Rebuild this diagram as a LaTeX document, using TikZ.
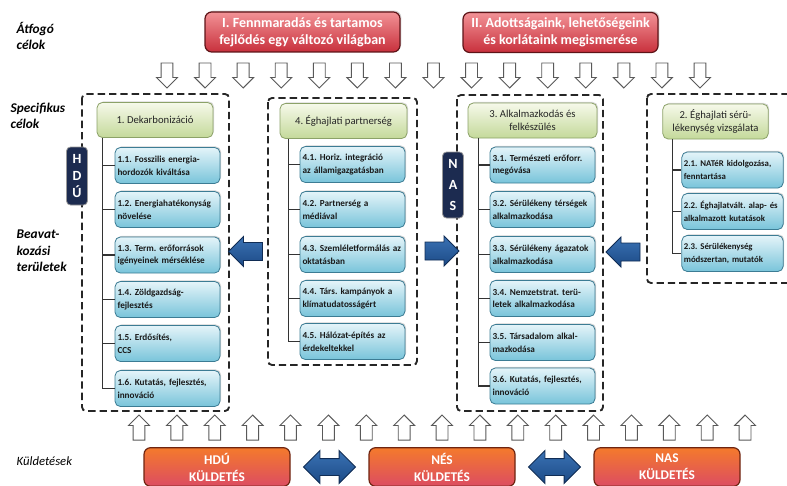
\documentclass[tikz,border=0pt]{standalone}
\usepackage{fontspec}
\setmainfont{Carlito}
\usetikzlibrary{shapes.arrows,shadows,calc}

\definecolor{redtop}{HTML}{F29296}
\definecolor{redbot}{HTML}{C8303C}
\definecolor{redline}{HTML}{5E1418}
\definecolor{grntop}{HTML}{F6F9EA}
\definecolor{grnbot}{HTML}{C4D99A}
\definecolor{grnline}{HTML}{8CA268}
\definecolor{blutop}{HTML}{E4F4F9}
\definecolor{blubot}{HTML}{78C4DA}
\definecolor{bluline}{HTML}{3C7C94}
\definecolor{navy}{HTML}{1C2B50}
\definecolor{arrtop}{HTML}{3A72B4}
\definecolor{arrbot}{HTML}{1C4A86}
\definecolor{arrline}{HTML}{102C54}
\definecolor{orgtop}{HTML}{F47A2C}
\definecolor{orgbot}{HTML}{DC4C62}
\definecolor{orgline}{HTML}{6E2410}

\tikzset{
  goalbox/.style={draw=redline, line width=0.9pt, rounded corners=5pt,
    top color=redtop, bottom color=redbot, text=white, align=center,
    minimum width=146.25pt, minimum height=30pt, inner sep=1pt,
    font=\fontsize{10.5}{13}\selectfont\bfseries,
    drop shadow={opacity=0.35,shadow xshift=1pt,shadow yshift=1pt}},
  headbox/.style={draw=grnline, line width=0.6pt, rounded corners=4pt,
    top color=grntop, bottom color=grnbot, align=center,
    minimum height=26.25pt, inner sep=1pt, text=black!85,
    font=\fontsize{8}{10}\selectfont,
    drop shadow={opacity=0.3,shadow xshift=0.8pt,shadow yshift=0.8pt}},
  taskbox/.style={draw=bluline, line width=0.6pt, rounded corners=4pt,
    top color=blutop, bottom color=blubot, align=left,
    text width=75pt, minimum width=78.75pt, minimum height=27pt,
    inner xsep=1.5pt, inner ysep=2pt, text=black!90,
    font=\frenchspacing\fontsize{6.9}{9.6}\selectfont\bfseries,
    drop shadow={opacity=0.35,shadow xshift=0.8pt,shadow yshift=0.8pt}},
  stratlbl/.style={draw=black!40, line width=0.6pt, rounded corners=3pt,
    fill=navy, text=white, align=center, minimum width=15.75pt, inner sep=1pt,
    font=\fontsize{10.5}{13}\selectfont\bfseries},
  missbox/.style={draw=orgline, line width=0.9pt, rounded corners=5pt,
    top color=orgtop, bottom color=orgbot, text=white, align=center,
    minimum width=109.5pt, minimum height=29pt, inner sep=1pt,
    font=\fontsize{10}{12.75}\selectfont\bfseries},
  sidelbl/.style={anchor=west, align=left,
    font=\fontsize{10}{12.5}\selectfont\bfseries\itshape},
  groupbox/.style={draw=black!85, line width=1.4pt, dash pattern=on 5.5pt off 3pt,
    rounded corners=3pt},
  tree/.style={draw=black!80, line width=0.8pt},
  hollowarr/.style={single arrow, draw=black!65, fill=white, line width=0.7pt,
    minimum height=18.75pt, inner xsep=4.1pt, inner ysep=0pt,
    single arrow head extend=3.4pt},
  bluearr/.style={single arrow, draw=arrline, line width=0.7pt,
    top color=arrtop, bottom color=arrbot,
    minimum height=25.5pt, inner xsep=0pt, inner ysep=6.4pt,
    single arrow head extend=4.5pt},
  dblarr/.style={double arrow, draw=arrline, line width=0.7pt,
    top color=arrtop, bottom color=arrbot,
    minimum height=39pt, inner xsep=0pt, inner ysep=6pt,
    double arrow head extend=6pt}
}

\begin{document}
\frenchspacing
\begin{tikzpicture}[x=0.75pt,y=0.75pt,yscale=-1,xscale=1]
    \useasboundingbox (0,0) rectangle (787,485);

    % Side labels
    \node[sidelbl] (lblatf) at (12,36) {Átfogó\\célok};
    \node[sidelbl] (lblspec) at (6,116) {Specifikus\\célok};
    \node[sidelbl] (lblbeav) at (12,251) {Beavat-\\kozási\\területek};
    \node[sidelbl, font=\fontsize{9.5}{12}\selectfont\itshape] (lblkuld) at (12,461) {Küldetések};

    % Overarching goals
    \node[goalbox] (goalI) at (302.5,32) {I. Fennmaradás és tartamos\\fejlődés egy változó világban};
    \node[goalbox] (goalII) at (560.5,32.5) {II. Adottságaink, lehetőségeink\\és korlátaink megismerése};

    % Hollow arrows, top row and bottom row
    \foreach \i in {0,...,14}
      \node[hollowarr, shape border rotate=270] (dn\i) at (167+38.07*\i,72.5) {};
    \foreach \i in {0,...,16}
      \node[hollowarr, shape border rotate=90] (up\i) at (139+37.88*\i,430.5) {};

    % Dashed groups
    \draw[groupbox] (82,94) rectangle (229,411);
    \draw[groupbox] (268,98) rectangle (417,365);
    \draw[groupbox] (457,95) rectangle (603,411);
    \draw[groupbox] (647,94) rectangle (800,283);

    % 1. Dekarbonizacio
    \node[headbox, minimum width=87pt] (dekarb) at (155,120) {1. Dekarbonizáció};
    \node[taskbox] (d1) at (167.5,165.5) {1.1. Fosszilis energia-\\hordozók kiváltása};
    \node[taskbox] (d2) at (167.5,209.5) {1.2. Energiahatékonyság\\növelése};
    \node[taskbox] (d3) at (167.5,255) {1.3. Term. erőforrások\\igényeinek mérséklése};
    \node[taskbox] (d4) at (167.5,299.5) {1.4. Zöldgazdság-\\fejlesztés};
    \node[taskbox] (d5) at (167.5,343.5) {1.5. Erdősítés,\\CCS};
    \node[taskbox] (d6) at (167.5,388.5) {1.6. Kutatás, fejlesztés,\\innováció};
    \coordinate (td) at ([xshift=4.5pt]dekarb.south west);
    \draw[tree] (td) |- (d6.west);
    \foreach \n in {d1,d2,d3,d4,d5}
      \draw[tree] (td |- \n.west) -- (\n.west);

    % 4. Eghajlati partnerseg
    \node[headbox, minimum width=95.25pt] (partner) at (343.5,121) {4. Éghajlati partnerség};
    \node[taskbox] (p1) at (352.5,164.5) {4.1. Horiz. integráció\\az államigazgatásban};
    \node[taskbox] (p2) at (352.5,209.5) {4.2. Partnerség a\\médiával};
    \node[taskbox] (p3) at (352.5,254.5) {4.3. Szemléletformálás az\\oktatásban};
    \node[taskbox] (p4) at (352.5,298.5) {4.4. Társ. kampányok a\\klímatudatosságért};
    \node[taskbox] (p5) at (352.5,341.5) {4.5. Hálózat-építés az\\érdekeltekkel};
    \coordinate (tp) at ([xshift=6.75pt]partner.south west);
    \draw[tree] (tp) |- (p5.west);
    \foreach \n in {p1,p2,p3,p4}
      \draw[tree] (tp |- \n.west) -- (\n.west);

    % 3. Alkalmazkodas
    \node[headbox, minimum width=96.75pt] (alkalm) at (532.5,120.5) {3. Alkalmazkodás és\\felkészülés};
    \node[taskbox] (a1) at (542.5,165) {3.1. Természeti erőforr.\\megóvása};
    \node[taskbox] (a2) at (542.5,209.5) {3.2. Sérülékeny térségek\\alkalmazkodása};
    \node[taskbox] (a3) at (542.5,254.5) {3.3. Sérülékeny ágazatok\\alkalmazkodása};
    \node[taskbox] (a4) at (542.5,298.5) {3.4. Nemzetstrat. terü-\\letek alkalmazkodása};
    \node[taskbox] (a5) at (542.5,342.5) {3.5. Társadalom alkal-\\mazkodása};
    \node[taskbox] (a6) at (542.5,386) {3.6. Kutatás, fejlesztés,\\innováció};
    \coordinate (ta) at ([xshift=8.25pt]alkalm.south west);
    \draw[tree] (ta) |- (a6.west);
    \foreach \n in {a1,a2,a3,a4,a5}
      \draw[tree] (ta |- \n.west) -- (\n.west);

    % 2. Eghajlati serulekenyseg
    \node[headbox, minimum width=79pt] (serul) at (715.5,121.5) {2. Éghajlati sérü-\\lékenység vizsgálata};
    \node[taskbox, minimum width=75.75pt, text width=73pt, font=\frenchspacing\fontsize{6.6}{9.4}\selectfont\bfseries] (s1) at (732.5,170) {2.1. NATéR kidolgozása,\\fenntartása};
    \node[taskbox, minimum width=75.75pt, text width=73pt, font=\frenchspacing\fontsize{6.6}{9.4}\selectfont\bfseries] (s2) at (732.5,211.5) {2.2. Éghajlatvált. alap- és\\alkalmazott kutatások};
    \node[taskbox, minimum width=75.75pt, text width=73pt, font=\frenchspacing\fontsize{6.6}{9.4}\selectfont\bfseries] (s3) at (732.5,253.5) {2.3. Sérülékenység\\módszertan, mutatók};
    \coordinate (ts) at ([xshift=7.5pt]serul.south west);
    \draw[tree] (ts) |- (s3.west);
    \foreach \n in {s1,s2}
      \draw[tree] (ts |- \n.west) -- (\n.west);

    % Strategy labels
    \node[stratlbl, minimum height=43.5pt] (hdulbl) at (77,176) {H\\D\\Ú};
    \node[stratlbl, minimum height=49.5pt, font=\fontsize{10.5}{16}\selectfont\bfseries] (naslbl) at (453,185) {N\\A\\S};

    % Block arrows between the groups
    \node[bluearr, shape border rotate=180] (arrdek) at (250,251.5) {};
    \node[bluearr] (arrnas) at (437.5,251) {};
    \node[bluearr, shape border rotate=180] (arralk) at (627.5,252) {};

    % Missions
    \node[missbox] (hdumis) at (217,467) {HDÚ\\KÜLDETÉS};
    \node[missbox] (nesmis) at (442,467) {NÉS\\KÜLDETÉS};
    \node[missbox] (nasmis) at (667,467) {NAS\\KÜLDETÉS};
    \node[dblarr] (dblA) at ($(hdumis.east)!0.5!(nesmis.west)$) {};
    \node[dblarr] (dblB) at ($(nesmis.east)!0.5!(nasmis.west)$) {};

\end{tikzpicture}
\end{document}
